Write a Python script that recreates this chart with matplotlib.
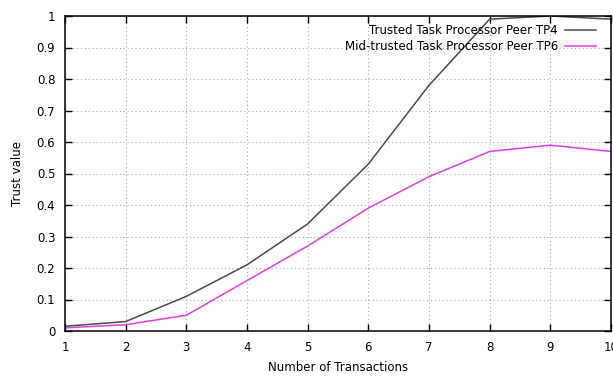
import matplotlib
matplotlib.use("Agg")
import matplotlib.pyplot as plt
from matplotlib.ticker import FormatStrFormatter

transactions = [1, 2, 3, 4, 5, 6, 7, 8, 9, 10]
tp4_trust = [0.015, 0.03, 0.11, 0.21, 0.34, 0.53, 0.78, 0.99, 1.0, 0.99]
tp6_trust = [0.01, 0.02, 0.05, 0.16, 0.27, 0.39, 0.49, 0.57, 0.59, 0.57]
y_ticks = [0, 0.1, 0.2, 0.3, 0.4, 0.5, 0.6, 0.7, 0.8, 0.9, 1]

fig = plt.figure(figsize=(6.13, 3.76), dpi=100)
ax = fig.add_axes([65 / 613, 1 - 331 / 376, (611 - 65) / 613, (331 - 16) / 376])

ax.plot(transactions, tp4_trust, color='#4a4a4a', lw=1.1, label='Trusted Task Processor Peer TP4')
ax.plot(transactions, tp6_trust, color='#e040e0', lw=1.1, label='Mid-trusted Task Processor Peer TP6')

ax.set_xlim(1, 10)
ax.set_ylim(0, 1)
ax.set_xticks(transactions)
ax.set_yticks(y_ticks)
ax.yaxis.set_major_formatter(FormatStrFormatter('%g'))
ax.tick_params(direction='in', top=True, right=True, length=5, width=1,
               labelsize=8.5, pad=7)
for s in ax.spines.values():
    s.set_linewidth(1.1)
ax.grid(True, color='#aaaaaa', linestyle=(0, (1, 2.5)), linewidth=0.8)

ax.set_xlabel('Number of Transactions', fontsize=8.5, labelpad=5)
ax.set_ylabel('Trust value', fontsize=8.5, labelpad=9)

leg = ax.legend(loc='upper right', frameon=False, markerfirst=False, fontsize=8.5,
                handlelength=2.65, handletextpad=0.6, borderaxespad=0.3,
                labelspacing=0.25, bbox_to_anchor=(0.988, 1.0))
for t in leg.get_texts():
    t.set_ha('right')

fig.savefig('out.png', dpi=100)
